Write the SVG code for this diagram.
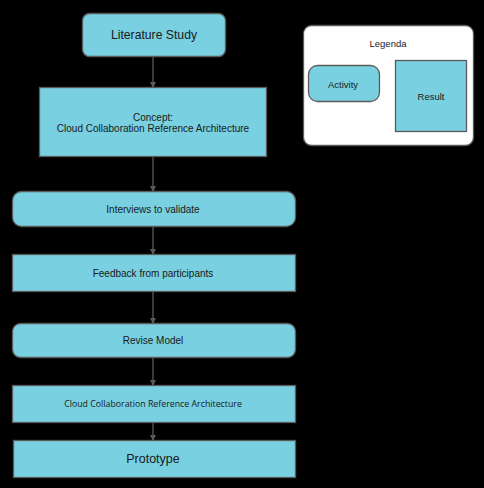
<svg xmlns="http://www.w3.org/2000/svg" width="484" height="488" viewBox="0 0 484 488">
<style>
.n{fill:#78d0e0;stroke:#5a5a5a;stroke-width:1.3}
.t{font-family:"Liberation Sans",Arial,sans-serif;fill:#1a1a1a;text-anchor:middle;dominant-baseline:central}
.c{stroke:#5a5a5a;stroke-width:1.3;fill:none;marker-end:url(#a)}
</style>
<defs>
<marker id="a" markerWidth="6" markerHeight="6" refX="5" refY="3" orient="auto" markerUnits="userSpaceOnUse">
<path d="M0,0 L6,3 L0,6 Z" fill="#5a5a5a"/>
</marker>
</defs>
<rect width="484" height="488" fill="#000"/>
<g id="connectors">
<path class="c" d="M153,57 V87"/>
<path class="c" d="M153,157 V191"/>
<path class="c" d="M153,226 V254"/>
<path class="c" d="M153,291 V323"/>
<path class="c" d="M153,357 V385"/>
<path class="c" d="M153,422 V440"/>
</g>
<g id="literature">
<rect class="n" x="82.5" y="13.5" width="143" height="43" rx="7"/>
<text class="t" x="154" y="35" font-size="12.2">Literature Study</text>
</g>
<g id="concept">
<rect class="n" x="39.5" y="87.5" width="227" height="69"/>
<text class="t" x="153" y="117" font-size="10">Concept:</text>
<text class="t" x="153" y="128" font-size="10">Cloud Collaboration Reference Architecture</text>
</g>
<g id="interviews">
<rect class="n" x="12.5" y="191.5" width="283" height="35" rx="9"/>
<text class="t" x="153" y="209" font-size="10">Interviews to validate</text>
</g>
<g id="feedback">
<rect class="n" x="12.5" y="254.5" width="283" height="37"/>
<text class="t" x="153" y="273" font-size="10">Feedback from participants</text>
</g>
<g id="revise">
<rect class="n" x="12.5" y="323.5" width="283" height="34" rx="8"/>
<text class="t" x="153" y="340" font-size="10">Revise Model</text>
</g>
<g id="cra">
<rect class="n" x="12.5" y="385.5" width="283" height="37"/>
<text class="t" x="153" y="404" font-size="8.8" style="font-family:'Open Sans','Noto Sans',sans-serif">Cloud Collaboration Reference Architecture</text>
</g>
<g id="prototype">
<rect class="n" x="13.5" y="440.5" width="282" height="37"/>
<text class="t" x="153" y="459" font-size="12.5">Prototype</text>
</g>
<g id="legend">
<rect x="303.5" y="25.5" width="170" height="120" rx="8" fill="#fff" stroke="#5a5a5a" stroke-width="1.3"/>
<text class="t" x="388" y="43" font-size="9.5">Legenda</text>
<rect class="n" x="308.5" y="65.5" width="71" height="36" rx="9"/>
<text class="t" x="343" y="84" font-size="9.5">Activity</text>
<rect class="n" x="395.5" y="60.5" width="71" height="71"/>
<text class="t" x="431" y="96" font-size="9.5">Result</text>
</g>
</svg>
